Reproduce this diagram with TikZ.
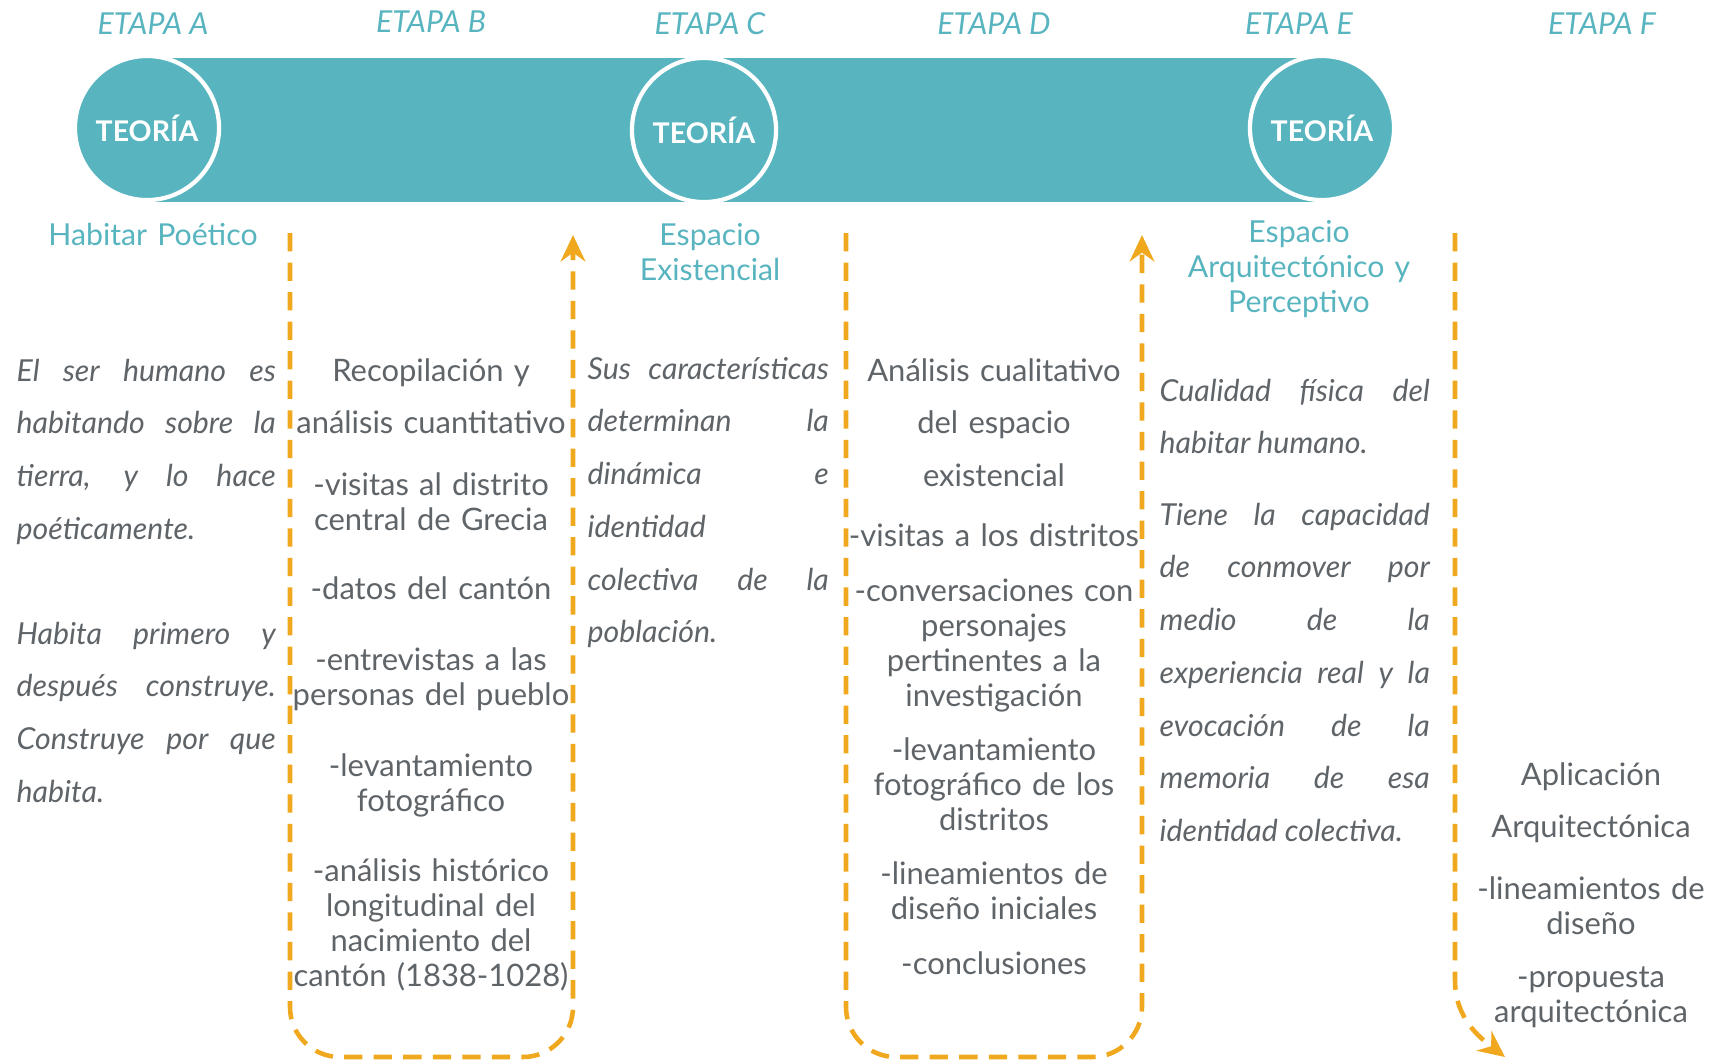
\documentclass[tikz,border=0pt]{standalone}
\usepackage{fontspec}
\setmainfont{Lato}
\usetikzlibrary{positioning, arrows.meta}
\definecolor{turquesa}{HTML}{58B5C0}
\definecolor{naranja}{HTML}{F0A81E}
\definecolor{grisTexto}{HTML}{5F6469}
\hyphenpenalty=10000
\exhyphenpenalty=10000

\begin{document}
\begin{tikzpicture}[x=0.01cm, y=-0.01cm,
    etapa/.style={text=turquesa, anchor=base, font=\fontsize{8.6}{10}\selectfont\itshape},
    teoria/.style={circle, fill=turquesa, draw=white, line width=1.2pt, minimum size=1.44cm, inner sep=0pt, text=white, font=\fontsize{8.1}{10}\selectfont\bfseries},
    tema/.style={text=turquesa, align=center, text width=3cm, anchor=base, inner sep=0pt, font=\fontsize{8.6}{10}\selectfont},
    cita/.style={text=grisTexto, align=justify, anchor=base west, inner sep=0pt, font=\fontsize{8.6}{15}\selectfont\itshape},
    punto/.style={text=grisTexto, align=center, text width=3.4cm, anchor=base, inner sep=0pt, font=\fontsize{8.8}{10}\selectfont},
    flujo/.style={draw=naranja, line width=1.3pt, dash pattern=on 5.2pt off 3.2pt, rounded corners=0.5cm},
    punta/.style={-{Stealth[length=7.5pt, width=7pt, inset=2.5pt]}}]
\useasboundingbox (0,0) rectangle (1712,1063);
\fill[white] (0,0) rectangle (1712,1063);

% etapas
\node[etapa] (etA) at (153,34) {ETAPA A};
\node[etapa] (etB) at (431,32) {ETAPA B};
\node[etapa] (etC) at (710,34) {ETAPA C};
\node[etapa] (etD) at (994,34) {ETAPA D};
\node[etapa] (etE) at (1299,34) {ETAPA E};
\node[etapa] (etF) at (1602,34) {ETAPA F};

% banda y teorias
\fill[turquesa] (147,58) rectangle (1322,202);
\node[teoria] (teoA) at (147,128) {TEORÍA};
\node[teoria] (teoC) at (704,130) {TEORÍA};
\node[teoria] (teoE) at (1322,128) {TEORÍA};

\node[tema] (temA) at (153,245) {Habitar Poético};
\node[tema] (temC) at (710,245) {Espacio\\Existencial};
\node[tema] (temE) at (1299,242) {Espacio\\Arquitectónico y\\Perceptivo};

% textos de teoria
\node[cita, text width=2.59cm] (citA1) at (16,381) {El ser humano es\linebreak habitando sobre la\linebreak tierra, y lo hace\linebreak poéticamente.};
\node[cita, text width=2.59cm] (citA2) at (16,644) {Habita primero y\linebreak después construye.\linebreak Construye por que\linebreak habita.};
\node[cita, text width=2.41cm] (citC) at (587,379) {Sus características\linebreak determinan la\linebreak dinámica e\linebreak identidad\linebreak colectiva de la\linebreak población.};
\node[cita, text width=2.70cm] (citE1) at (1159,401) {Cualidad física del\linebreak habitar humano.};
\node[cita, text width=2.70cm] (citE2) at (1159,525) {Tiene la capacidad\linebreak de conmover por\linebreak medio de la\linebreak experiencia real y la\linebreak evocación de la\linebreak memoria de esa\linebreak identidad colectiva.};

% etapa B
\node[punto, font=\fontsize{8.8}{15}\selectfont] (recop) at (431,381) {Recopilación y\\análisis cuantitativo};
\node[punto] (visB) at (431,495) {-visitas al distrito\\central de Grecia};
\node[punto] (datB) at (431,599) {-datos del cantón};
\node[punto] (entB) at (431,670) {-entrevistas a las\\personas del pueblo};
\node[punto] (levB) at (431,776) {-levantamiento\\fotográfico};
\node[punto] (hisB) at (431,881) {-análisis histórico\\longitudinal del\\nacimiento del\\cantón (1838-1028)};

% etapa D
\node[punto, font=\fontsize{8.8}{15}\selectfont] (anal) at (994,381) {Análisis cualitativo\\del espacio\\existencial};
\node[punto] (visD) at (994,546) {-visitas a los distritos};
\node[punto] (conD) at (994,601) {-conversaciones con\\personajes\\pertinentes a la\\investigación};
\node[punto] (levD) at (994,760) {-levantamiento\\fotográfico de los\\distritos};
\node[punto] (linD) at (994,884) {-lineamientos de\\diseño iniciales};
\node[punto] (cncD) at (994,974) {-conclusiones};

% etapa F
\node[punto, font=\fontsize{8.8}{15}\selectfont] (aplic) at (1591,785) {Aplicación\\Arquitectónica};
\node[punto] (linF) at (1591,899) {-lineamientos de\\diseño};
\node[punto] (proF) at (1591,987) {-propuesta\\arquitectónica};

% flujos
\coordinate (fondo) at (0,1057);
\coordinate (salB) at (290,233);
\coordinate (llegB) at (573,235);
\coordinate (salD) at (846,233);
\coordinate (llegD) at (1142,235);
\coordinate (salF) at (1455,233);
\coordinate (curvaF) at (1455,980);
\coordinate (llegF) at (1505,1057);
\draw[flujo, punta] (salB) -- (salB |- fondo) -- (llegB |- fondo) -- (llegB);
\draw[flujo, punta] (salD) -- (salD |- fondo) -- (llegD |- fondo) -- (llegD);
\draw[flujo, punta, sharp corners] (salF) -- (curvaF) .. controls +(0,38) and +(-26,-20) .. (llegF);
\end{tikzpicture}
\end{document}
